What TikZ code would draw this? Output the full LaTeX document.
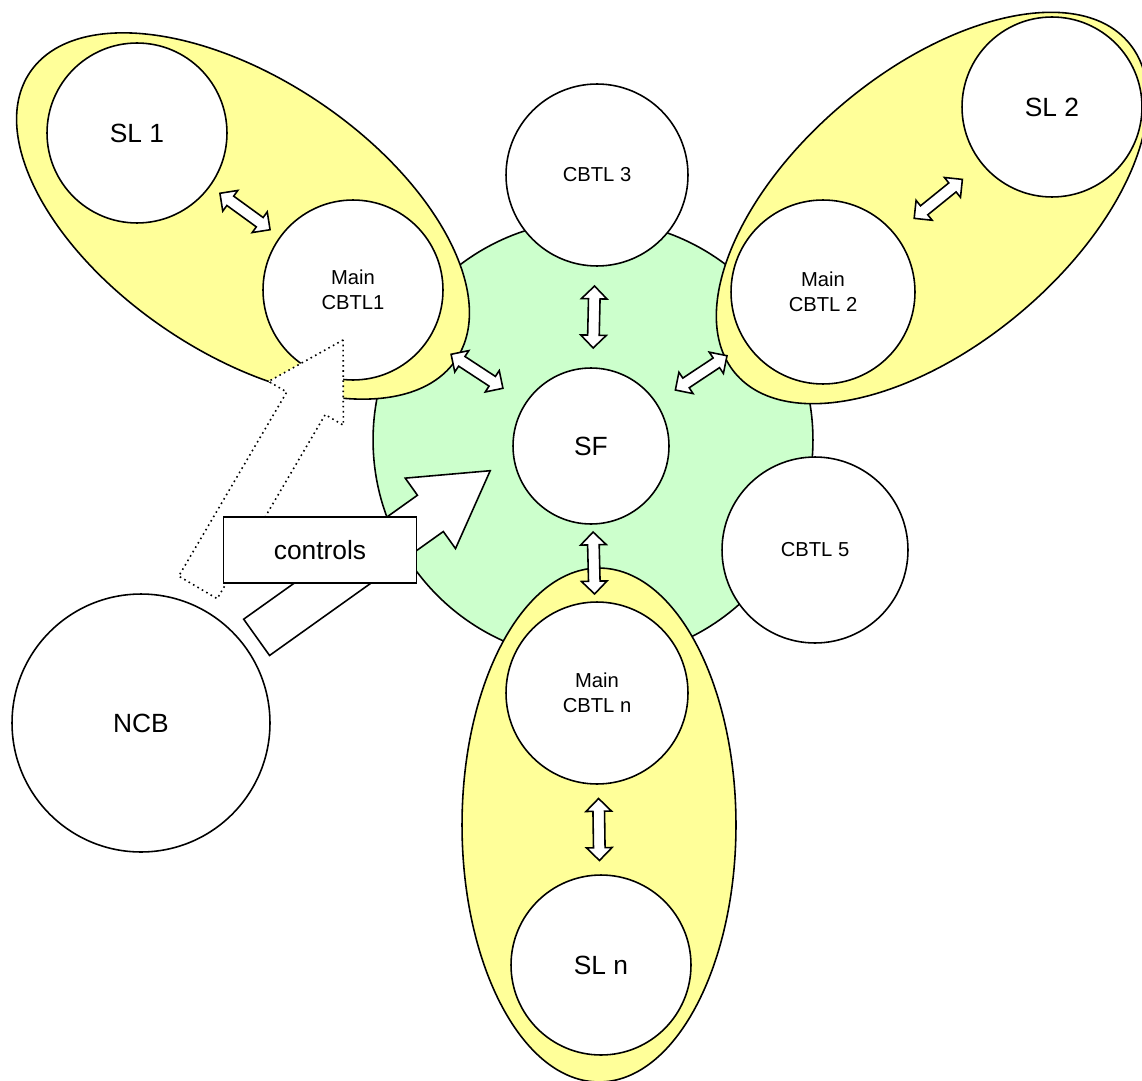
\documentclass[tikz,border=0pt]{standalone}
\usepackage{fontspec}
\setmainfont{Liberation Sans}
\usetikzlibrary{shapes.geometric,shapes.arrows}
\definecolor{yell}{RGB}{255,255,153}
\definecolor{mint}{RGB}{204,255,204}
\tikzset{
  blob/.style={circle,draw,fill=white,inner sep=0pt,align=center,font=\fontsize{15}{18}\selectfont},
  small/.style={font=\fontsize{11.5}{14}\selectfont},
  grp/.style={ellipse,draw,fill=yell,minimum width=10.28cm,minimum height=5.48cm},
  dbl/.style={double arrow,draw,fill=white,minimum height=1.24cm,inner xsep=0pt,inner ysep=0.1cm,double arrow head extend=0.14cm},
  blk/.style={single arrow,draw,fill=white,minimum height=5.74cm,inner xsep=0pt,inner ysep=0.43cm,single arrow head extend=0.42cm,single arrow tip angle=61}
}
\begin{document}
\begin{tikzpicture}[x=0.02cm,y=-0.02cm,line width=0.9pt]
\useasboundingbox (0,0) rectangle (1142,1081);
\node[circle,draw,fill=mint,minimum size=8.8cm] (core) at (593,440) {};
\node[grp,rotate=-34] (g1) at (243,216) {};
\node[grp,rotate=40] (g2) at (932,208) {};
\node[grp,rotate=90] (gn) at (599,825) {};

\node[blob,minimum size=3.6cm] (sl1) at (137,133) {SL 1};
\node[blob,small,minimum size=3.6cm] (m1) at (353,290) {Main\\CBTL1};
\node[blob,small,minimum size=3.64cm] (c3) at (597,175) {CBTL 3};
\node[blob,small,minimum size=3.68cm] (m2) at (823,292) {Main\\CBTL 2};
\node[blob,minimum size=3.6cm] (sl2) at (1052,107) {SL 2};
\node[blob,minimum size=3.12cm] (sf) at (591,446) {SF};
\node[blob,small,minimum size=3.72cm] (c5) at (815,550) {CBTL 5};
\node[blob,small,minimum size=3.64cm] (mn) at (597,693) {Main\\CBTL n};
\node[blob,minimum size=3.6cm] (sln) at (601,965) {SL n};
\node[blob,minimum size=5.16cm] (ncb) at (141,723) {NCB};

\path (sl1) -- (m1) node[dbl,midway,sloped] {};
\path (m1) -- (sf) node[dbl,midway,sloped] {};
\path (c3) -- (sf) node[dbl,midway,sloped] {};
\path (sf) -- (m2) node[dbl,midway,sloped] {};
\path (m2) -- (sl2) node[dbl,midway,sloped] {};
\path (sf) -- (mn) node[dbl,midway,sloped] {};
\path (mn) -- (sln) node[dbl,midway,sloped] {};

\node[blk,dotted,rotate=59.6] (hint) at (261,480) {};
\node[blk,rotate=35.5] (push) at (358,565) {};
\node[draw,fill=white,minimum width=3.86cm,minimum height=1.32cm,font=\fontsize{15}{18}\selectfont] (ctl) at (320,550) {controls};
\end{tikzpicture}
\end{document}
